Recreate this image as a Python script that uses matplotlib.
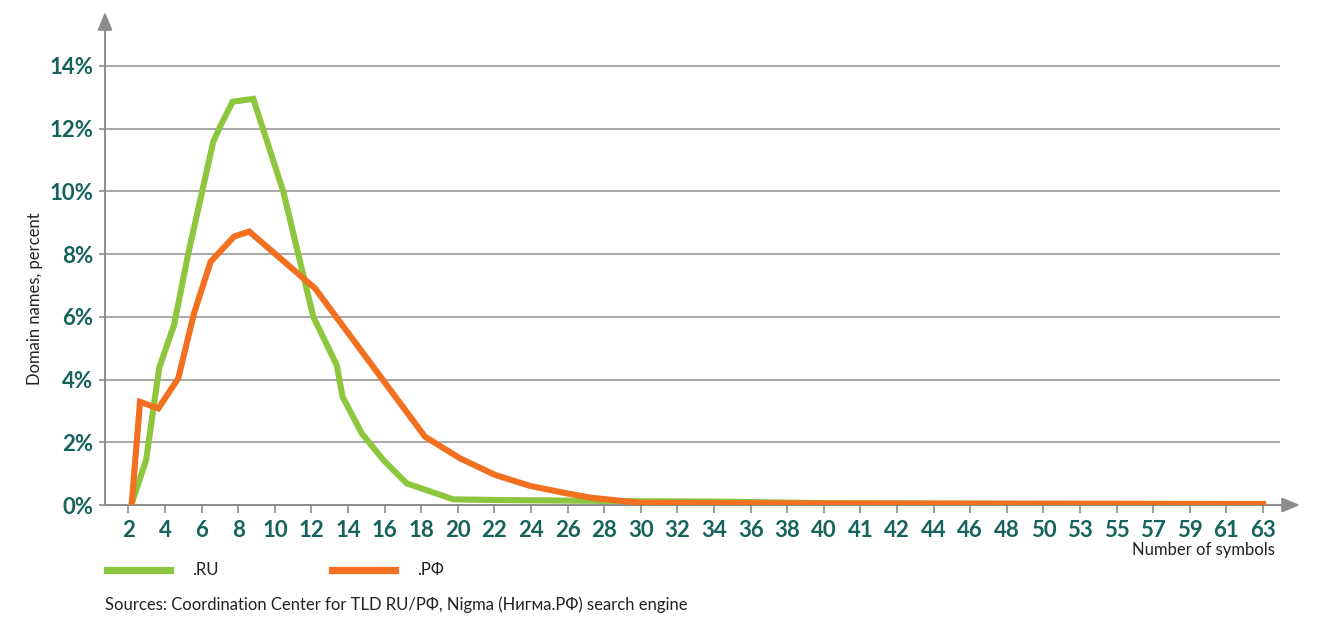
import matplotlib
matplotlib.use('Agg')
import matplotlib.pyplot as plt

plt.rcParams['font.family'] = ['Lato', 'DejaVu Sans']

# x tick labels (number of symbols), one label every two category slots
labels = [str(n) for n in range(2, 41, 2)] + ['41', '42', '44', '46', '48', '50',
                                               '53', '55', '57', '59', '61', '63']
label_pos = [2 + 2 * j for j in range(len(labels))]

# .RU share of domain names, percent (x in category slots)
ru_x = [2.15, 2.96, 3.68, 4.49, 5.27, 6.63, 7.0, 7.69, 8.82, 10.46, 12.1, 13.38,
        13.7, 14.74, 15.92, 17.2, 19.75, 22, 26, 30, 34, 40, 50, 64]
ru_y = [0, 1.43, 4.38, 5.74, 8.03, 11.58, 12.06, 12.86, 12.95, 9.99, 6.0, 4.46,
        3.45, 2.29, 1.44, 0.69, 0.18, 0.16, 0.14, 0.12, 0.11, 0.06, 0.04, 0.03]

# .РФ share of domain names, percent
rf_x = [2.17, 2.63, 3.63, 4.72, 5.58, 6.49, 7.77, 8.6, 12.19, 18.2, 20.11, 22.03,
        23.94, 25.7, 27.3, 29.95, 34, 40, 50, 64]
rf_y = [0, 3.29, 3.08, 4.04, 6.11, 7.76, 8.56, 8.72, 6.91, 2.18, 1.49, 0.96,
        0.61, 0.40, 0.23, 0.07, 0.06, 0.05, 0.04, 0.03]

yticks = [0, 2, 4, 6, 8, 10, 12, 14]

green = '#8dc63f'
orange = '#f37021'
teal = '#16625d'
gray = '#8c8c8c'

fig = plt.figure(figsize=(13.18, 6.18), dpi=100)
ax = fig.add_axes([105 / 1318, 1 - 505 / 618, 1195 / 1318, 493 / 618])
xmin, xmax = 0.716, 66.02
ax.set_xlim(xmin, xmax)
ax.set_ylim(0, 15.72)

for s in ax.spines.values():
    s.set_visible(False)

# gridlines stop short of the arrow
grid_end = 2 + (1280 - 128.5) / 18.3
ax.hlines(yticks[1:], xmin, grid_end, color='#9a9a9a', lw=1.2, zorder=1)

ax.plot(ru_x, ru_y, color=green, lw=4.4, solid_joinstyle='miter', zorder=3)
ax.plot(rf_x, rf_y, color=orange, lw=4.4, solid_joinstyle='miter', zorder=4)

# axes with arrows
ax.annotate('', xy=(1.0, 0), xytext=(0, 0), xycoords='axes fraction',
            arrowprops=dict(arrowstyle='-|>,head_length=1.1,head_width=0.45',
                            color=gray, lw=1.4, shrinkA=0, shrinkB=0), zorder=2)
ax.annotate('', xy=(0, 1.0), xytext=(0, 0), xycoords='axes fraction',
            arrowprops=dict(arrowstyle='-|>,head_length=1.1,head_width=0.45',
                            color=gray, lw=1.4, shrinkA=0, shrinkB=0), zorder=2)

ax.set_yticks(yticks)
ax.set_yticklabels([f'{v}%' for v in yticks], fontsize=16, fontweight='bold',
                   color=teal)
ax.set_xticks(label_pos)
ax.set_xticklabels(labels, fontsize=16, fontweight='bold', color=teal)
ax.tick_params(axis='y', length=4.5, width=1.2, color=gray, pad=4)
ax.tick_params(axis='x', length=6, width=1.2, color=gray, pad=5)

fig.text(35 / 1318, 1 - 299 / 618, 'Domain names, percent', rotation=90,
         ha='center', va='center', fontsize=12, color='#222222')
fig.text(1275 / 1318, 1 - 550 / 618, 'Number of symbols', ha='right', va='center',
         fontsize=12, color='#222222')

# legend
fig.add_artist(plt.Line2D([107 / 1318, 170 / 1318], [1 - 570 / 618] * 2,
                          color=green, lw=5.2))
fig.text(192 / 1318, 1 - 570 / 618, '.RU', ha='left', va='center', fontsize=12,
         color='#222222')
fig.add_artist(plt.Line2D([332 / 1318, 395 / 1318], [1 - 570 / 618] * 2,
                          color=orange, lw=5.2))
fig.text(417 / 1318, 1 - 570 / 618, '.РФ', ha='left', va='center', fontsize=12,
         color='#222222')

fig.text(105 / 1318, 1 - 605 / 618,
         'Sources: Coordination Center for TLD RU/РФ, Nigma (Нигма.РФ) search engine',
         ha='left', va='center', fontsize=12, color='#222222')

fig.savefig('out.png', dpi=100)
